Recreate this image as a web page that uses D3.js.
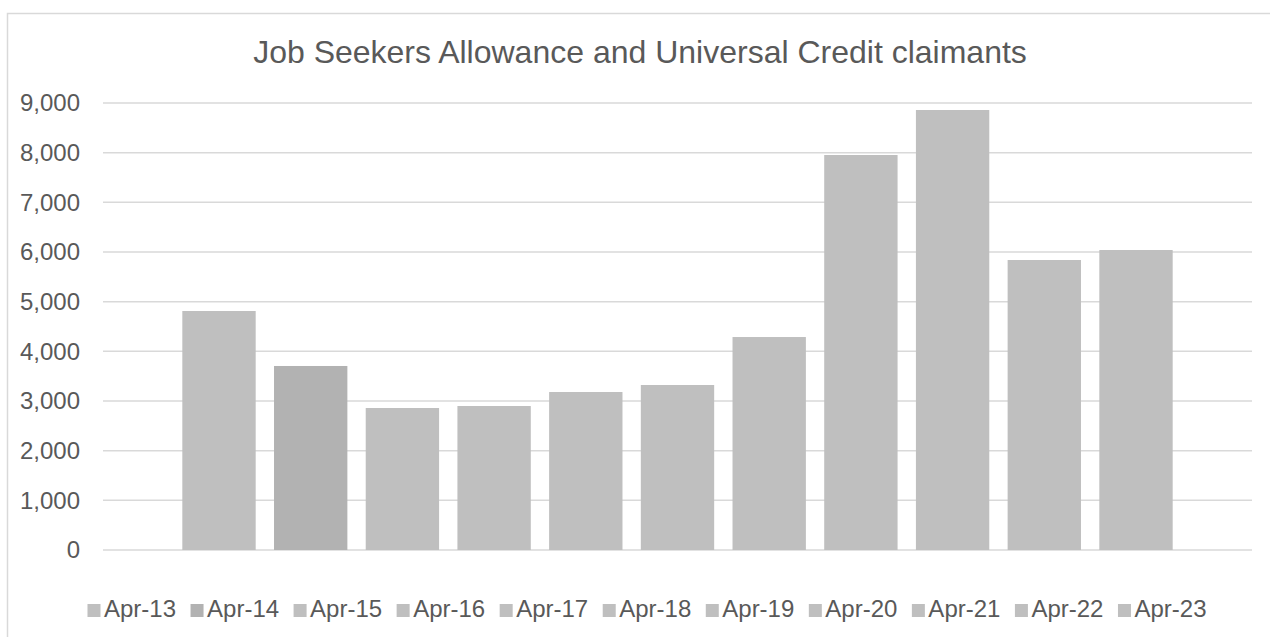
<!DOCTYPE html>
<html>
<head>
<meta charset="utf-8">
<script src="https://cdn.jsdelivr.net/npm/d3@7"></script>
<style>
  body { margin: 0; background: #fff; }
  text { font-family: "Liberation Sans", Arial, sans-serif; fill: #595959; }
</style>
</head>
<body>
<div id="chart"></div>
<script>
// data
var months = ["Apr-13", "Apr-14", "Apr-15", "Apr-16", "Apr-17", "Apr-18",
  "Apr-19", "Apr-20", "Apr-21", "Apr-22", "Apr-23"];
var claimants = [4812, 3705, 2859, 2899, 3181, 3322, 4288, 7953, 8859, 5839, 6040];
var barColors = ["#bfbfbf", "#b2b2b2", "#bfbfbf", "#bfbfbf", "#bfbfbf", "#bfbfbf",
  "#bfbfbf", "#bfbfbf", "#bfbfbf", "#bfbfbf", "#bfbfbf"];
var yTicks = [0, 1000, 2000, 3000, 4000, 5000, 6000, 7000, 8000, 9000];

var svgWidth = 1270;
var svgHeight = 637;

// plot area
var plot = { left: 103, right: 1252, top: 103, bottom: 550 };

var svg = d3.select("#chart")
  .append("svg")
  .attr("width", svgWidth)
  .attr("height", svgHeight);

// chart border (runs off the right and bottom edges)
svg.append("rect")
  .attr("x", 7.5)
  .attr("y", 13.5)
  .attr("width", 1400)
  .attr("height", 700)
  .attr("fill", "none")
  .attr("stroke", "#d9d9d9")
  .attr("stroke-width", 1.5);

var x = d3.scaleBand()
  .domain(months)
  .range([plot.left, plot.right])
  .paddingInner(0.2)
  .paddingOuter(0.865);

var y = d3.scaleLinear()
  .domain([0, 9000])
  .range([plot.bottom, plot.top]);

// gridlines
svg.append("g")
  .selectAll("line")
  .data(yTicks)
  .enter()
  .append("line")
  .attr("x1", plot.left)
  .attr("x2", plot.right)
  .attr("y1", d => y(d))
  .attr("y2", d => y(d))
  .attr("stroke", "#d9d9d9")
  .attr("stroke-width", 1.5);

// y axis labels
var leftAxis = d3.axisLeft(y)
  .tickValues(yTicks)
  .tickFormat(d3.format(","))
  .tickSize(0)
  .tickPadding(23);

var yAxis = svg.append("g")
  .attr("transform", `translate(${plot.left}, 0)`)
  .call(leftAxis);
yAxis.select(".domain").remove();
yAxis.selectAll("text")
  .attr("font-size", "24px")
  .attr("fill", "#595959")
  .attr("font-family", "Liberation Sans, Arial, sans-serif");

// bars
svg.append("g")
  .selectAll("rect")
  .data(months)
  .enter()
  .append("rect")
  .attr("x", d => x(d))
  .attr("width", x.bandwidth())
  .attr("y", (d, i) => y(claimants[i]))
  .attr("height", (d, i) => y(0) - y(claimants[i]))
  .attr("fill", (d, i) => barColors[i]);

// title
svg.append("text")
  .attr("x", 640)
  .attr("y", 63)
  .attr("text-anchor", "middle")
  .attr("font-size", "32px")
  .text("Job Seekers Allowance and Universal Credit claimants");

// legend
var legend = svg.append("g");
var items = legend.selectAll("g")
  .data(months)
  .enter()
  .append("g");

items.append("rect")
  .attr("x", 0)
  .attr("y", -13)
  .attr("width", 13)
  .attr("height", 13)
  .attr("fill", (d, i) => barColors[i]);

items.append("text")
  .attr("x", 16.5)
  .attr("y", 0)
  .attr("font-size", "24px")
  .text(d => d);

// lay legend items out side by side and centre them
var offset = 0;
items.each(function() {
  var g = d3.select(this);
  var w = 16.5 + g.select("text").node().getComputedTextLength();
  g.attr("transform", `translate(${offset}, 0)`);
  offset += w + 14.5;
});
var legendWidth = offset - 14.5;
legend.attr("transform", `translate(${647 - legendWidth / 2}, 617)`);
</script>
</body>
</html>
